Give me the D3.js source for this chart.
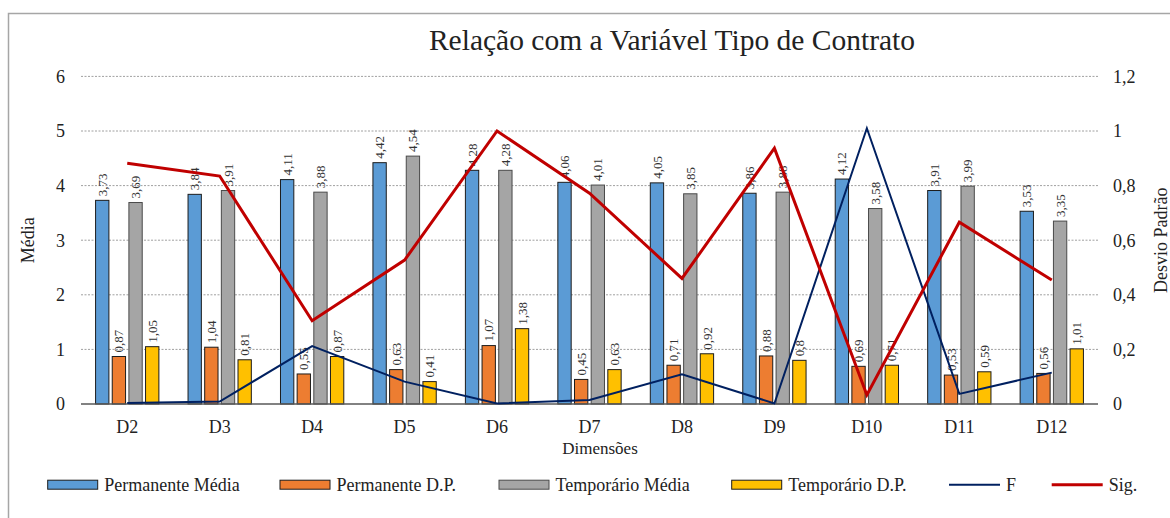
<!DOCTYPE html>
<html>
<head>
<meta charset="utf-8">
<script src="https://cdn.jsdelivr.net/npm/d3@7"></script>
<style>
  body { margin: 0; background: #fff; }
  svg text { font-family: "Times New Roman", "Liberation Serif", serif; fill: #222; }
</style>
</head>
<body>
<div id="chart"></div>
<script>
// data
var categories = ["D2", "D3", "D4", "D5", "D6", "D7", "D8", "D9", "D10", "D11", "D12"];
var permanenteMedia = [3.73, 3.84, 4.11, 4.42, 4.28, 4.06, 4.05, 3.86, 4.12, 3.91, 3.53];
var permanenteDP = [0.87, 1.04, 0.55, 0.63, 1.07, 0.45, 0.71, 0.88, 0.69, 0.53, 0.56];
var temporarioMedia = [3.69, 3.91, 3.88, 4.54, 4.28, 4.01, 3.85, 3.88, 3.58, 3.99, 3.35];
var temporarioDP = [1.05, 0.81, 0.87, 0.41, 1.38, 0.63, 0.92, 0.8, 0.71, 0.59, 1.01];
var fValues = [0.004, 0.009, 0.212, 0.082, 0.002, 0.015, 0.109, 0.002, 1.01, 0.037, 0.115];
var sigValues = [0.882, 0.835, 0.305, 0.527, 1.0, 0.772, 0.46, 0.937, 0.033, 0.666, 0.454];
var leftTicks = [0, 1, 2, 3, 4, 5, 6];
var rightTicks = [0, 0.2, 0.4, 0.6, 0.8, 1, 1.2];

var barSeries = [
    {name: "Permanente Média", values: permanenteMedia, fill: "#5B9BD5", stroke: "#1c1c1c"},
    {name: "Permanente D.P.", values: permanenteDP, fill: "#ED7D31", stroke: "#1c1c1c"},
    {name: "Temporário Média", values: temporarioMedia, fill: "#A5A5A5", stroke: "#4a4a4a"},
    {name: "Temporário D.P.", values: temporarioDP, fill: "#FFC000", stroke: "#1c1c1c"}
];
var lineSeries = [
    {name: "F", values: fValues, color: "#002060", width: 2},
    {name: "Sig.", values: sigValues, color: "#C00000", width: 3}
];

var draw_chart = function () {
    var width = 1170, height = 518;
    var plotLeft = 81, plotRight = 1098, plotTop = 76.4, plotBottom = 404;

    var comma = function (v) { return d3.format("~f")(+v.toFixed(2)).replace(".", ","); };

    var svg = d3.select("#chart").append("svg")
        .attr("width", width)
        .attr("height", height);

    // chart frame (runs off right and bottom edges)
    svg.append("rect")
        .attr("x", 8.5).attr("y", 13.5)
        .attr("width", 1200).attr("height", 600)
        .attr("fill", "none")
        .attr("stroke", "#a6a6a6")
        .attr("stroke-width", 1.5);

    var x = d3.scaleBand().domain(categories).range([plotLeft, plotRight]);
    var bw = x.bandwidth();
    var x1 = d3.scaleBand()
        .domain(barSeries.map(function (s) { return s.name; }))
        .range([bw / 2 - 31.65, bw / 2 + 31.65])
        .paddingInner(0.2).paddingOuter(0);
    var y = d3.scaleLinear().domain([0, 6]).range([plotBottom, plotTop]);
    var y2 = d3.scaleLinear().domain([0, 1.2]).range([plotBottom, plotTop]);

    // gridlines
    svg.append("g").selectAll("line")
        .data(leftTicks.slice(1))
        .enter().append("line")
        .attr("x1", plotLeft).attr("x2", plotRight)
        .attr("y1", function (d) { return y(d); })
        .attr("y2", function (d) { return y(d); })
        .attr("stroke", "#a0a0a0")
        .attr("stroke-width", 1)
        .attr("stroke-dasharray", "2,1.5");

    // left axis labels
    svg.append("g").selectAll("text")
        .data(leftTicks)
        .enter().append("text")
        .attr("x", 65)
        .attr("y", function (d) { return y(d); })
        .attr("dy", "0.35em")
        .attr("text-anchor", "end")
        .style("font-size", "18px")
        .text(function (d) { return comma(d); });

    // right axis labels
    svg.append("g").selectAll("text")
        .data(rightTicks)
        .enter().append("text")
        .attr("x", 1113)
        .attr("y", function (d) { return y2(d); })
        .attr("dy", "0.35em")
        .attr("text-anchor", "start")
        .style("font-size", "18px")
        .text(function (d) { return comma(d); });

    // bars
    var groups = svg.append("g").selectAll(".grp")
        .data(categories)
        .enter().append("g")
        .attr("transform", function (c) { return "translate(" + x(c) + ",0)"; });

    barSeries.forEach(function (s) {
        groups.append("rect")
            .attr("x", x1(s.name))
            .attr("width", x1.bandwidth())
            .attr("y", function (c, i) { return y(s.values[i]); })
            .attr("height", function (c, i) { return plotBottom - y(s.values[i]); })
            .attr("fill", s.fill)
            .attr("stroke", s.stroke)
            .attr("stroke-width", 1);
    });

    // baseline
    svg.append("line")
        .attr("x1", plotLeft).attr("x2", plotRight)
        .attr("y1", plotBottom).attr("y2", plotBottom)
        .attr("stroke", "#595959")
        .attr("stroke-width", 1.5);

    // bar value labels (rotated)
    barSeries.forEach(function (s) {
        groups.append("text")
            .attr("transform", function (c, i) {
                var cx = x1(s.name) + x1.bandwidth() / 2;
                return "translate(" + cx + "," + (y(s.values[i]) - 4) + ") rotate(-90)";
            })
            .attr("dy", "0.35em")
            .attr("text-anchor", "start")
            .style("font-size", "13px")
            .style("fill", "#333")
            .text(function (c, i) { return comma(s.values[i]); });
    });

    // lines on secondary axis
    lineSeries.forEach(function (s) {
        var line = d3.line()
            .x(function (d, i) { return x(categories[i]) + bw / 2; })
            .y(function (d) { return y2(d); });
        svg.append("path")
            .datum(s.values)
            .attr("d", line)
            .attr("fill", "none")
            .attr("stroke", s.color)
            .attr("stroke-width", s.width)
            .attr("stroke-linejoin", "miter");
    });

    // category labels
    svg.append("g").selectAll("text")
        .data(categories)
        .enter().append("text")
        .attr("x", function (c) { return x(c) + bw / 2; })
        .attr("y", 433)
        .attr("text-anchor", "middle")
        .style("font-size", "18px")
        .text(function (c) { return c; });

    // titles
    svg.append("text")
        .attr("x", 672).attr("y", 50)
        .attr("text-anchor", "middle")
        .style("font-size", "29.5px")
        .text("Relação com a Variável Tipo de Contrato");

    svg.append("text")
        .attr("x", 600).attr("y", 454)
        .attr("text-anchor", "middle")
        .style("font-size", "17px")
        .text("Dimensões");

    svg.append("text")
        .attr("transform", "translate(28," + ((plotTop + plotBottom) / 2) + ") rotate(-90)")
        .attr("dy", "0.35em")
        .attr("text-anchor", "middle")
        .style("font-size", "18px")
        .text("Média");

    svg.append("text")
        .attr("transform", "translate(1161," + ((plotTop + plotBottom) / 2) + ") rotate(-90)")
        .attr("dy", "0.35em")
        .attr("text-anchor", "middle")
        .style("font-size", "18px")
        .text("Desvio Padrão");

    // legend
    var legendY = 484.7;
    var legendX = [47.7, 280, 499, 731.7, 949, 1051.7];
    var legendItems = barSeries.map(function (s) {
            return {name: s.name, type: "bar", fill: s.fill, stroke: s.stroke};
        })
        .concat(lineSeries.map(function (s) {
            return {name: s.name, type: "line", color: s.color, width: s.width};
        }));

    var leg = svg.append("g").selectAll(".leg")
        .data(legendItems)
        .enter().append("g")
        .attr("transform", function (d, i) { return "translate(" + legendX[i] + "," + legendY + ")"; });

    leg.each(function (d) {
        var g = d3.select(this);
        if (d.type === "bar") {
            g.append("rect")
                .attr("x", 0).attr("y", -4.5)
                .attr("width", 50).attr("height", 9)
                .attr("fill", d.fill)
                .attr("stroke", d.stroke)
                .attr("stroke-width", 1);
        } else {
            g.append("line")
                .attr("x1", 0).attr("x2", 51)
                .attr("y1", 0).attr("y2", 0)
                .attr("stroke", d.color)
                .attr("stroke-width", d.width);
        }
        g.append("text")
            .attr("x", d.type === "bar" ? 56.5 : 57)
            .attr("dy", "0.35em")
            .style("font-size", "18px")
            .text(d.name);
    });
};

draw_chart();
</script>
</body>
</html>
